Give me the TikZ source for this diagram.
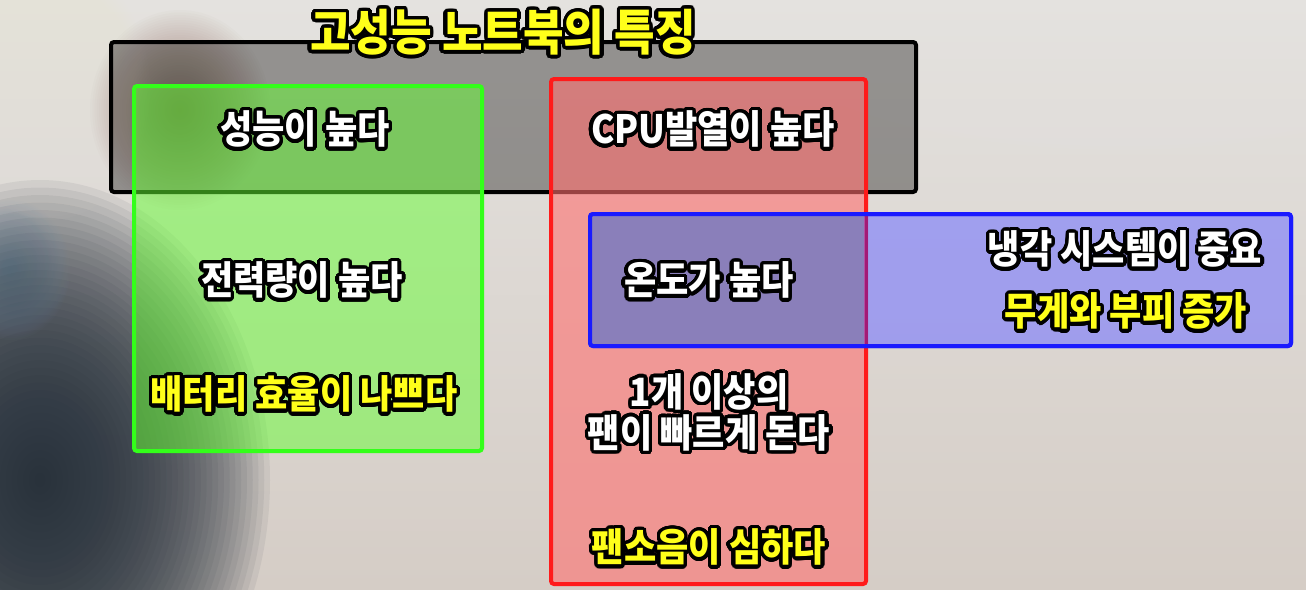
\documentclass[tikz,border=0pt]{standalone}
\usepackage{fontspec}
\usepackage{contour}
\newfontfamily\kr{Noto Sans CJK KR}[FakeStretch=0.9]
\contourlength{3.4pt}
\contournumber{40}
\definecolor{bgtop}{HTML}{E4E2DF}
\definecolor{bgbot}{HTML}{D5CDC6}
\definecolor{blobdark}{HTML}{26303B}
\definecolor{blobblue}{HTML}{7FA3C4}
\definecolor{blobbrown}{HTML}{7A5A40}
\definecolor{blobcream}{HTML}{F0E8D8}
\definecolor{blobsky}{HTML}{F4F8FA}
\definecolor{gfill}{HTML}{66FF33}
\definecolor{gline}{HTML}{33FF1A}
\definecolor{rfill}{HTML}{FF7070}
\definecolor{rline}{HTML}{FF1A1A}
\definecolor{bfill}{HTML}{7878FF}
\definecolor{bline}{HTML}{1A1AFF}
\definecolor{ovl}{HTML}{8A7FBA}
\definecolor{ttlyellow}{HTML}{FFFF1A}
\tikzset{
  boxline/.style={line width=4pt, rounded corners=3pt},
  wtxt/.style={text=white, font=\kr\bfseries\fontsize{39}{41}\selectfont, inner sep=0pt, align=center},
  ytxt/.style={wtxt, text=ttlyellow},
  ttl/.style={wtxt, text=ttlyellow, font=\kr\bfseries\fontsize{49}{52}\selectfont}
}
\newcommand{\ol}[1]{\contour{black}{#1}}
\begin{document}
\begin{tikzpicture}[x=1pt,y=-1pt]
\useasboundingbox (0,0) rectangle (1306,589);
% background
\shade[top color=bgtop, bottom color=bgbot] (0,0) rectangle (1306,589);
\foreach \i in {1,...,40}{
  \fill[blobsky, opacity=0.03] (1120,10) ellipse ({380*\i/40} and {140*\i/40});
  \fill[blobcream, opacity=0.03] (50,90) ellipse ({100*\i/40} and {130*\i/40});
  \fill[blobbrown, opacity=0.02] (180,110) ellipse ({90*\i/40} and {100*\i/40});
  \fill[blobdark, opacity=0.07] (40,480) ellipse ({230*\i/40} and {300*\i/40});
  \fill[blobblue, opacity=0.025] (10,270) ellipse ({60*\i/40} and {70*\i/40});
}
% boxes
\filldraw[boxline, draw=black, fill=black, fill opacity=0.35] (111,42) rectangle (916,192);
\filldraw[boxline, draw=gline, fill=gfill, fill opacity=0.5] (134,86) rectangle (482,451);
\filldraw[boxline, draw=rline, fill=rfill, fill opacity=0.6] (551,79) rectangle (866,584);
\filldraw[boxline, draw=bline, fill=bfill, fill opacity=0.6] (590,214) rectangle (1291,346);
\fill[ovl] (592,216) rectangle (864,344);
\draw[line width=3pt, draw=rline!60!bline] (866,216) -- (866,344);
\draw[boxline, draw=bline] (590,214) rectangle (1291,346);
% texts
\node[ttl] (title) at (503,34) {\ol{고성능 노트북의 특징}};
\node[wtxt] (perf) at (305,131) {\ol{성능이 높다}};
\node[wtxt] (cpu) at (713,131) {\ol{CPU발열이 높다}};
\node[wtxt] (power) at (302,282) {\ol{전력량이 높다}};
\node[ytxt] (batt) at (304,396) {\ol{배터리 효율이 나쁘다}};
\node[wtxt] (temp) at (709,282) {\ol{온도가 높다}};
\node[wtxt] (cool) at (1125,251) {\ol{냉각 시스템이 중요}};
\node[ytxt] (weight) at (1126,313) {\ol{무게와 부피 증가}};
\node[wtxt] (fan) at (709,414) {\ol{1개 이상의}\\\ol{팬이 빠르게 돈다}};
\node[ytxt] (noise) at (709,549) {\ol{팬소음이 심하다}};
\end{tikzpicture}
\end{document}
